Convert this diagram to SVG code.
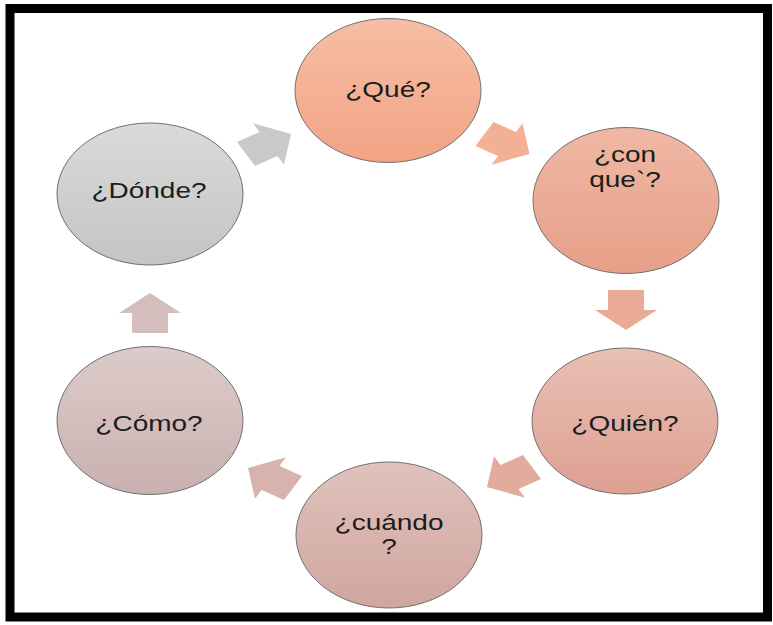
<svg xmlns="http://www.w3.org/2000/svg" width="773" height="625" viewBox="0 0 773 625">
<defs>
<linearGradient id="gQue" x1="0" y1="0" x2="0" y2="1"><stop offset="0" stop-color="#f6bea6"/><stop offset="1" stop-color="#f2a384"/></linearGradient>
<linearGradient id="gCon" x1="0" y1="0" x2="0" y2="1"><stop offset="0" stop-color="#efb8a4"/><stop offset="1" stop-color="#e79f89"/></linearGradient>
<linearGradient id="gQuien" x1="0" y1="0" x2="0" y2="1"><stop offset="0" stop-color="#e8c0b4"/><stop offset="1" stop-color="#dda092"/></linearGradient>
<linearGradient id="gCuando" x1="0" y1="0" x2="0" y2="1"><stop offset="0" stop-color="#e0c2bc"/><stop offset="1" stop-color="#d0a69f"/></linearGradient>
<linearGradient id="gComo" x1="0" y1="0" x2="0" y2="1"><stop offset="0" stop-color="#dccbca"/><stop offset="1" stop-color="#c9b1b0"/></linearGradient>
<linearGradient id="gDonde" x1="0" y1="0" x2="0" y2="1"><stop offset="0" stop-color="#dadada"/><stop offset="1" stop-color="#c4c4c4"/></linearGradient>
<path id="arr" d="M-26,-18 L0,-18 L0,-31 L26,0 L0,31 L0,18 L-26,18 Z"/>
</defs>
<style>
.node{stroke:#707070;stroke-width:1}
.lbl{font-family:"Liberation Sans",Arial,sans-serif;font-size:28px;fill:#1c1c1c;text-anchor:middle}
</style>
<rect x="0" y="0" width="773" height="625" fill="#ffffff"/>
<rect x="10" y="8.5" width="757.5" height="608.5" fill="#ffffff" stroke="#000000" stroke-width="9"/>
<g id="connectors">
<use href="#arr" fill="#c9c9c9" transform="translate(268.5,144) scale(1,0.77) rotate(-30)"/>
<use href="#arr" fill="#f4b095" transform="translate(507,144) scale(1,0.77) rotate(30)"/>
<use href="#arr" fill="#eaab94" transform="translate(626,310) scale(1,0.77) rotate(90)"/>
<use href="#arr" fill="#e2ab9c" transform="translate(509.5,477) scale(1,0.77) rotate(150)"/>
<use href="#arr" fill="#d8b3ad" transform="translate(270.5,478) scale(1,0.77) rotate(210)"/>
<use href="#arr" fill="#d3bebd" transform="translate(150,313) scale(1,0.77) rotate(270)"/>
</g>
<g id="que">
<ellipse class="node" cx="388" cy="90.5" rx="93" ry="72" fill="url(#gQue)"/>
<text class="lbl" transform="translate(388,97) scale(1,0.76)">¿Qué?</text>
</g>
<g id="conque">
<ellipse class="node" cx="626" cy="200.5" rx="93" ry="73" fill="url(#gCon)"/>
<text class="lbl" transform="translate(625,162) scale(1,0.76)">¿con</text>
<text class="lbl" transform="translate(625,187) scale(1,0.76)">que`?</text>
</g>
<g id="quien">
<ellipse class="node" cx="625" cy="421" rx="93" ry="73" fill="url(#gQuien)"/>
<text class="lbl" transform="translate(625,431) scale(1,0.76)">¿Quién?</text>
</g>
<g id="cuando">
<ellipse class="node" cx="389" cy="535" rx="93" ry="73" fill="url(#gCuando)"/>
<text class="lbl" transform="translate(389,530) scale(1,0.76)">¿cuándo</text>
<text class="lbl" transform="translate(389,554) scale(1,0.76)">?</text>
</g>
<g id="como">
<ellipse class="node" cx="150" cy="420.5" rx="93" ry="74" fill="url(#gComo)"/>
<text class="lbl" transform="translate(149,431) scale(1,0.76)">¿Cómo?</text>
</g>
<g id="donde">
<ellipse class="node" cx="150" cy="194" rx="93" ry="71" fill="url(#gDonde)"/>
<text class="lbl" transform="translate(149,198) scale(1,0.76)">¿Dónde?</text>
</g>
</svg>
